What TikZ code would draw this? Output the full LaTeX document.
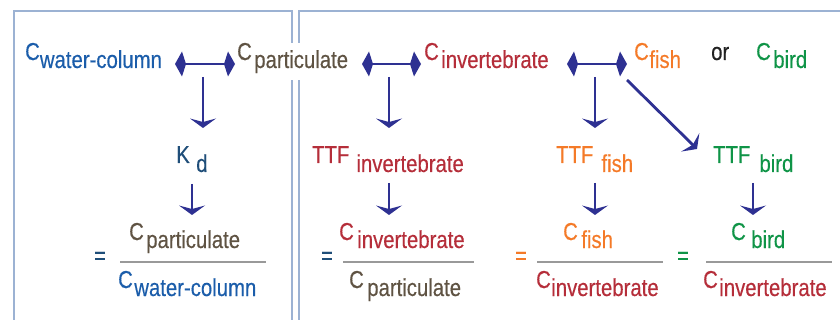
\documentclass[tikz,border=0pt]{standalone}
\usepackage{fontspec}
\setmainfont[FakeStretch=0.83,FakeBold=0.3]{Liberation Sans}
\definecolor{cblue}{HTML}{1B5DAA}
\definecolor{cbrown}{HTML}{5F5343}
\definecolor{cred}{HTML}{B52E3A}
\definecolor{corange}{HTML}{F47A28}
\definecolor{cgreen}{HTML}{0F9447}
\definecolor{cnavy}{HTML}{1F4E79}
\definecolor{cdark}{HTML}{222222}
\definecolor{arrc}{HTML}{2E3192}
\definecolor{boxc}{HTML}{9CB2D3}
\definecolor{barc}{HTML}{999999}
\newcommand\lab[4][8]{\raisebox{#1pt}{#2}\hspace{#3pt}#4}
% arrow heads: #1 tip coordinate, #2 direction angle
\newcommand\headT[2]{\fill[arrc,shift={(#1)},rotate=#2] (0,0) -- (-9.5,13) -- (-6,0) -- (-9.5,-13) -- cycle;}
\newcommand\headK[2]{\fill[arrc,shift={(#1)},rotate=#2] (0,0) -- (-7,12.5) -- (-11,0) -- (-7,-12.5) -- cycle;}
\begin{document}
\begin{tikzpicture}[x=1pt,y=-1pt,
  lbl/.style={anchor=base west, inner sep=0pt, font=\fontsize{24.5}{29}\selectfont},
  eq/.style={anchor=center, inner sep=0pt, font=\fontsize{24.5}{29}\selectfont},
  arr/.style={draw=arrc, line width=2.8pt, shorten >=5pt},
  darr/.style={draw=arrc, line width=2.8pt, shorten >=6pt, shorten <=6pt},
  frbar/.style={draw=barc, line width=2.5pt},
  boxl/.style={draw=boxc, line width=2.5pt}]
\useasboundingbox (0,0) rectangle (840,320);
\clip (0,0) rectangle (840,320);
% frames
\draw[boxl] (14,330) -- (14,11) -- (292,11) -- (292,330);
\draw[boxl] (299,330) -- (299,11) -- (850,11);
% top row
\node[lbl,text=cblue] (cwat) at (25,68) {\lab{C}{0}{water-column}};
\node[lbl,text=cbrown,fill=white,text height=25pt,text depth=12pt] (cpart) at (237,68) {\lab{C}{2.4}{particulate}};
\node[lbl,text=cred] (cinv) at (424,68) {\lab{C}{2.4}{invertebrate}};
\node[lbl,text=corange] (cfish) at (634,68) {\lab{C}{0.4}{fish}};
\node[lbl,text=cdark] (or) at (711,60) {or};
\node[lbl,text=cgreen] (cbird) at (756,68) {\lab{C}{2.4}{bird}};
% middle row
\node[lbl,text=cnavy] (kd) at (176,172) {\lab[9]{K}{6.5}{d}};
\node[lbl,text=cred] (ttfinv) at (312,172) {\lab[9]{TTF}{7}{invertebrate}};
\node[lbl,text=corange] (ttffish) at (556,172) {\lab[9]{TTF}{8}{fish}};
\node[lbl,text=cgreen] (ttfbird) at (713,172) {\lab[9]{TTF}{9}{bird}};
% fractions
\node[eq,text=cnavy] (eq1) at (100,258) {=};
\node[lbl,text=cbrown] (num1) at (129,248) {\lab{C}{2.4}{particulate}};
\node[lbl,text=cblue] (den1) at (118,296) {\lab{C}{1.4}{water-column}};
\draw[frbar] (120,262) -- (266,262);
\node[eq,text=cnavy] (eq2) at (327,258) {=};
\node[lbl,text=cred] (num2) at (339,248) {\lab{C}{3.4}{invertebrate}};
\node[lbl,text=cbrown] (den2) at (349,296) {\lab{C}{3.4}{particulate}};
\draw[frbar] (343,262) -- (474,262);
\node[eq,text=corange] (eq3) at (521,258) {=};
\node[lbl,text=corange] (num3) at (563,248) {\lab{C}{3.4}{fish}};
\node[lbl,text=cred] (den3) at (536,296) {\lab{C}{0.4}{invertebrate}};
\draw[frbar] (537,262) -- (663,262);
\node[eq,text=cgreen] (eq4) at (683,258) {=};
\node[lbl,text=cgreen] (num4) at (731,248) {\lab{C}{5.4}{bird}};
\node[lbl,text=cred] (den4) at (703,296) {\lab{C}{1.4}{invertebrate}};
\draw[frbar] (706,262) -- (832,262);
% double arrows
\coordinate (a1l) at (175,64); \coordinate (a1r) at (235,64);
\coordinate (a2l) at (362,64); \coordinate (a2r) at (421,64);
\coordinate (a3l) at (567,64); \coordinate (a3r) at (627,64);
\draw[darr] (a1l) -- (a1r); \headK{a1l}{180} \headK{a1r}{0}
\draw[darr] (a2l) -- (a2r); \headK{a2l}{180} \headK{a2r}{0}
\draw[darr] (a3l) -- (a3r); \headK{a3l}{180} \headK{a3r}{0}
% down arrows, upper
\coordinate (u1s) at (203,77); \coordinate (u1e) at (203,128);
\coordinate (u2s) at (389,77); \coordinate (u2e) at (389,128);
\coordinate (u3s) at (595,77); \coordinate (u3e) at (595,128);
\coordinate (u4s) at (627,80); \coordinate (u4e) at (697,149);
\draw[arr] (u1s) -- (u1e); \headT{u1e}{-90}
\draw[arr] (u2s) -- (u2e); \headT{u2e}{-90}
\draw[arr] (u3s) -- (u3e); \headT{u3e}{-90}
\draw[arr] (u4s) -- (u4e); \headT{u4e}{-44.6}
% down arrows, lower
\coordinate (l1s) at (192,184); \coordinate (l1e) at (192,215);
\coordinate (l2s) at (389,183); \coordinate (l2e) at (389,215);
\coordinate (l3s) at (595,183); \coordinate (l3e) at (595,215);
\coordinate (l4s) at (753,183); \coordinate (l4e) at (753,215);
\draw[arr] (l1s) -- (l1e); \headT{l1e}{-90}
\draw[arr] (l2s) -- (l2e); \headT{l2e}{-90}
\draw[arr] (l3s) -- (l3e); \headT{l3e}{-90}
\draw[arr] (l4s) -- (l4e); \headT{l4e}{-90}
\end{tikzpicture}
\end{document}
